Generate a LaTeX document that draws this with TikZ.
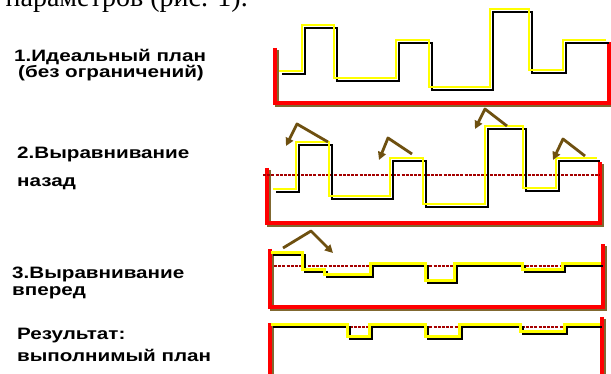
\documentclass[tikz,border=0pt]{standalone}
\usepackage{fontspec}
\usepackage{graphicx}
\setmainfont{Liberation Serif}
\newfontfamily\lblfont{Liberation Sans}
\usetikzlibrary{arrows.meta}
\definecolor{redU}{RGB}{255,0,0}
\definecolor{shadowB}{RGB}{128,104,48}
\definecolor{yel}{RGB}{255,255,0}
\definecolor{dred}{RGB}{165,0,0}
\definecolor{brownA}{RGB}{110,80,16}
\tikzset{
  redline/.style={draw=redU, line width=3.8pt, line join=miter},
  redshadow/.style={draw=shadowB, line width=3.8pt, line join=miter},
  planline/.style={draw=yel, line width=2.6pt},
  planshadow/.style={draw=black, line width=2.4pt},
  levelline/.style={draw=dred, line width=1.6pt, dash pattern=on 3pt off 1.2pt},
  shiftarrow/.style={draw=brownA, line width=2.8pt, line join=round, -{Triangle[length=8pt,width=8pt]}},
  lbl/.style={anchor=base west, inner sep=0pt, font=\lblfont\bfseries\fontsize{16.5}{18}\selectfont},
  toptext/.style={anchor=base east, inner sep=0pt, font=\fontsize{28}{30}\selectfont}
}
\newcommand{\stretchtxt}[1]{\scalebox{1.25}[1]{#1}}
\begin{document}
\begin{tikzpicture}[x=1pt,y=-1pt]
\useasboundingbox (0,0) rectangle (611,374);
\clip (0,0) rectangle (611,374);
\fill[white] (0,0) rectangle (611,374);
% top cut text
\node[toptext] (top) at (248,7) {параметров (рис. 1).};
% labels
\node[lbl] (l1a) at (14,62) {\stretchtxt{1.Идеальный план}};
\node[lbl] (l1b) at (18,78) {\stretchtxt{(без ограничений)}};
\node[lbl] (l2a) at (17,159) {\stretchtxt{2.Выравнивание}};
\node[lbl] (l2b) at (17,187) {\stretchtxt{назад}};
\node[lbl] (l3a) at (12,279) {\stretchtxt{3.Выравнивание}};
\node[lbl] (l3b) at (12,296) {\stretchtxt{вперед}};
\node[lbl] (l4a) at (17,340) {\stretchtxt{Результат:}};
\node[lbl] (l4b) at (17,362) {\stretchtxt{выполнимый план}};
% plan paths
\def\Pone{(282,74) -- (305,74) -- (305,28) -- (337,28) -- (337,81) -- (399,81) -- (399,43) -- (432,43) -- (432,90) -- (493,90) -- (493,12) -- (532,12) -- (532,73) -- (566,73) -- (566,43) -- (609,43)}
\def\Ptwo{(276,192) -- (299,192) -- (299,145) -- (332,145) -- (332,199) -- (393,199) -- (393,161) -- (426,161) -- (426,207) -- (488,207) -- (488,129) -- (526,129) -- (526,191) -- (559,191) -- (559,161) -- (600,161)}
\def\Pthree{(273,255) -- (305,255) -- (305,272) -- (327,272) -- (327,277) -- (373,277) -- (373,266) -- (428,266) -- (428,283) -- (457,283) -- (457,266) -- (525,266) -- (525,272) -- (565,272) -- (565,266) -- (603,266)}
\def\Pfour{(273,327) -- (350,327) -- (350,339) -- (372,339) -- (372,327) -- (428,327) -- (428,339) -- (462,339) -- (462,327) -- (523,327) -- (523,334) -- (567,334) -- (567,327) -- (602,327)}
% red frames (shadow then red)
\begin{scope}[shift={(2,2)}]
\draw[redshadow] (275,48) -- (275,103) -- (609,103) -- (609,42);
\draw[redshadow] (267,168) -- (267,223) -- (600,223) -- (600,162);
\draw[redshadow] (270,249) -- (270,307) -- (603,307) -- (603,244);
\draw[redshadow] (270,323) -- (270,380);
\draw[redshadow] (602,317) -- (602,380);
\end{scope}
\draw[redline] (275,48) -- (275,103) -- (609,103) -- (609,42);
\draw[redline] (267,168) -- (267,223) -- (600,223) -- (600,162);
\draw[redline] (270,249) -- (270,307) -- (603,307) -- (603,244);
\draw[redline] (270,323) -- (270,380);
\draw[redline] (602,317) -- (602,380);
% level lines
\draw[levelline] (263,175) -- (600,175);
\draw[levelline] (274,266) -- (600,266);
\draw[levelline] (274,327) -- (600,327);
% plans
\draw[planshadow] \Pone;
\draw[planline, shift={(-3,-3)}] \Pone;
\draw[planshadow] \Ptwo;
\draw[planline, shift={(-3,-3)}] \Ptwo;
\draw[planshadow] \Pthree;
\draw[planline, shift={(-2.5,-2.5)}] \Pthree;
\draw[planshadow] \Pfour;
\draw[planline, shift={(-2.5,-2.5)}] \Pfour;
% shift arrows
\coordinate (a1t) at (328,142); \coordinate (a1p) at (297,124); \coordinate (a1h) at (286,146);
\coordinate (a2t) at (412,154); \coordinate (a2p) at (388,138); \coordinate (a2h) at (379,160);
\coordinate (a3t) at (507,126); \coordinate (a3p) at (485,109); \coordinate (a3h) at (475,129);
\coordinate (a4t) at (585,156); \coordinate (a4p) at (563,139); \coordinate (a4h) at (553,160);
\coordinate (a5t) at (283,248); \coordinate (a5p) at (311,231); \coordinate (a5h) at (333,253);
\draw[shiftarrow] (a1t) -- (a1p) -- (a1h);
\draw[shiftarrow] (a2t) -- (a2p) -- (a2h);
\draw[shiftarrow] (a3t) -- (a3p) -- (a3h);
\draw[shiftarrow] (a4t) -- (a4p) -- (a4h);
\draw[shiftarrow] (a5t) -- (a5p) -- (a5h);
\end{tikzpicture}
\end{document}
